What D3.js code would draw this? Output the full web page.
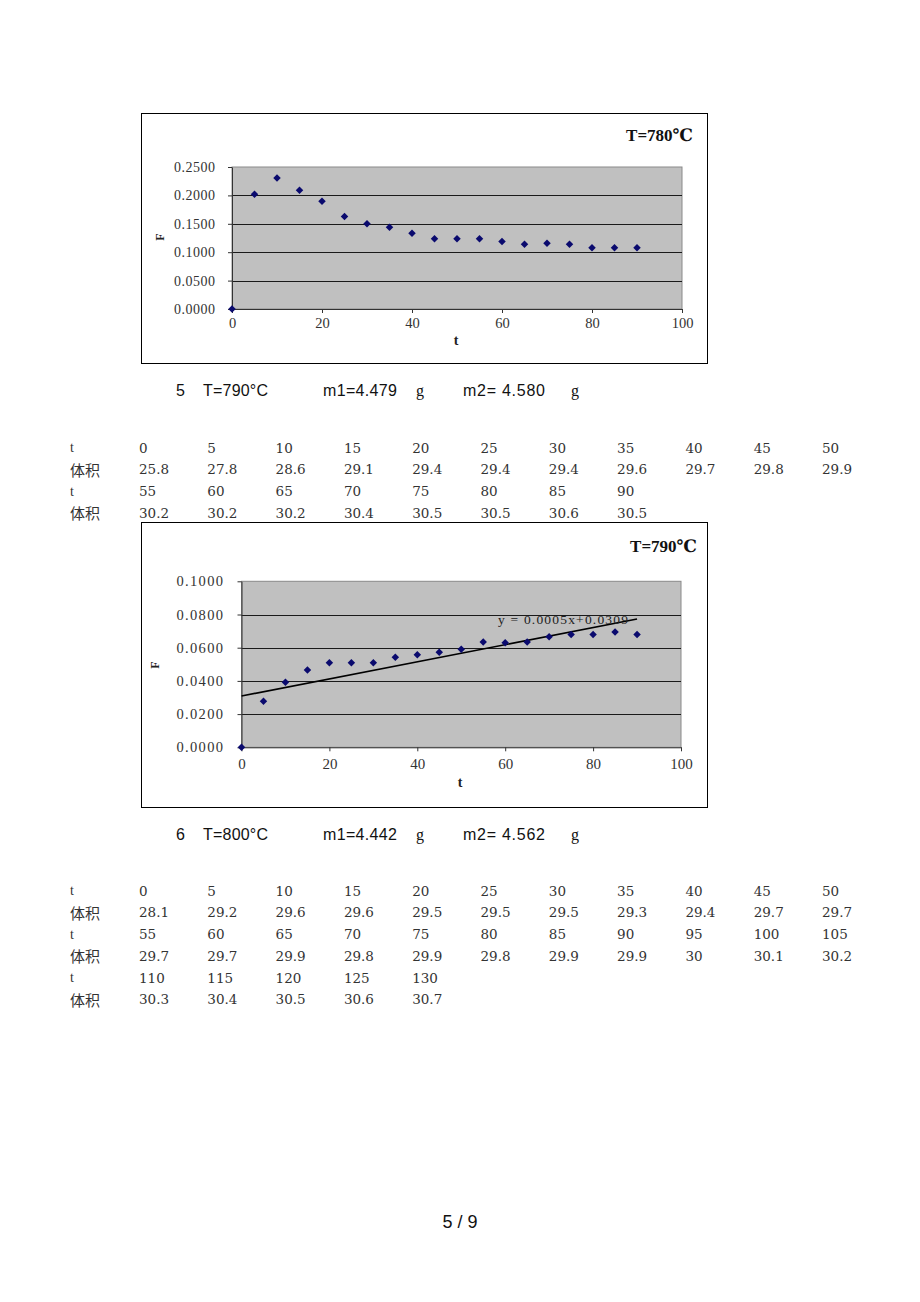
<!DOCTYPE html>
<html>
<head>
<meta charset="utf-8">
<script src="https://cdn.jsdelivr.net/npm/d3@7"></script>
<style>
  html, body { margin: 0; padding: 0; background: #fff; }
  svg { display: block; }
</style>
</head>
<body>
<svg id="page" width="920" height="1302"></svg>
<script>
// ---------- DATA ----------
// Chart 1 (T=780℃)
const chart1T = [0, 5, 10, 15, 20, 25, 30, 35, 40, 45, 50, 55, 60, 65, 70, 75, 80, 85, 90];
const chart1F = [0, 0.2019, 0.2306, 0.2090, 0.1896, 0.1630, 0.1500, 0.1438, 0.1332, 0.1238, 0.1238, 0.1238, 0.1190, 0.1139, 0.1156, 0.1139, 0.1080, 0.1080, 0.1080];
const chart1YTicks = [0, 0.05, 0.10, 0.15, 0.20, 0.25];
const chart1XTicks = [0, 20, 40, 60, 80, 100];
const chart1Title = "T=780℃";

// Chart 2 (T=790℃)
const chart2T = [0, 5, 10, 15, 20, 25, 30, 35, 40, 45, 50, 55, 60, 65, 70, 75, 80, 85, 90];
const chart2F = [0, 0.0277, 0.0392, 0.0466, 0.0510, 0.0510, 0.0510, 0.0542, 0.0558, 0.0572, 0.0590, 0.0634, 0.0630, 0.0634, 0.0666, 0.0680, 0.0680, 0.0695, 0.0680];
const chart2YTicks = [0, 0.02, 0.04, 0.06, 0.08, 0.10];
const chart2XTicks = [0, 20, 40, 60, 80, 100];
const chart2Title = "T=790℃";
const chart2TrendT = [0, 90];
const chart2TrendF = [0.0309, 0.0773];
const chart2Equation = "y = 0.0005x+0.0309";

// Section headers
const section5 = ["5", "T=790°C", "m1=4.479", "g", "m2= 4.580", "g"];
const section6 = ["6", "T=800°C", "m1=4.442", "g", "m2= 4.562", "g"];

// Tables
const table1T = [[0, 5, 10, 15, 20, 25, 30, 35, 40, 45, 50], [55, 60, 65, 70, 75, 80, 85, 90]];
const table1V = [["25.8", "27.8", "28.6", "29.1", "29.4", "29.4", "29.4", "29.6", "29.7", "29.8", "29.9"],
                 ["30.2", "30.2", "30.2", "30.4", "30.5", "30.5", "30.6", "30.5"]];
const table2T = [[0, 5, 10, 15, 20, 25, 30, 35, 40, 45, 50], [55, 60, 65, 70, 75, 80, 85, 90, 95, 100, 105], [110, 115, 120, 125, 130]];
const table2V = [["28.1", "29.2", "29.6", "29.6", "29.5", "29.5", "29.5", "29.3", "29.4", "29.7", "29.7"],
                 ["29.7", "29.7", "29.9", "29.8", "29.9", "29.8", "29.9", "29.9", "30", "30.1", "30.2"],
                 ["30.3", "30.4", "30.5", "30.6", "30.7"]];
const rowLabels = ["t", "体积"];
const pageLabel = "5 / 9";

// ---------- DRAW ----------
const svg = d3.select("#page");
svg.append("rect").attr("width", 920).attr("height", 1302).attr("fill", "#fff");

const serifFont = "'Liberation Serif', 'DejaVu Serif', serif";

function drawChart(cfg) {
  const g = svg.append("g");
  // frame
  g.append("rect")
    .attr("x", cfg.frame.x).attr("y", cfg.frame.y)
    .attr("width", cfg.frame.w).attr("height", cfg.frame.h)
    .attr("fill", "#fff").attr("stroke", "#000").attr("stroke-width", 1);

  const x = d3.scaleLinear().domain([0, 100]).range([cfg.plot.x0, cfg.plot.x1]);
  const y = d3.scaleLinear().domain([0, cfg.yMax]).range([cfg.plot.y0, cfg.plot.y1]);

  // plot area
  g.append("rect")
    .attr("x", x(0)).attr("y", y(cfg.yMax))
    .attr("width", x(100) - x(0)).attr("height", y(0) - y(cfg.yMax))
    .attr("fill", "#c0c0c0").attr("stroke", "#8a8a8a").attr("stroke-width", 1);

  // gridlines
  g.selectAll(".grid").data(cfg.yTicks.filter(v => v > 0 && v < cfg.yMax - 1e-9))
    .enter().append("line")
    .attr("x1", x(0)).attr("x2", x(100))
    .attr("y1", d => Math.round(y(d)) + 0.5).attr("y2", d => Math.round(y(d)) + 0.5)
    .attr("stroke", "#1a1a1a").attr("stroke-width", 1);

  // axes
  const xAxis = d3.axisBottom(x).tickValues(cfg.xTicks).tickSize(4).tickSizeOuter(0).tickFormat(d3.format("d"));
  const yAxis = d3.axisLeft(y).tickValues(cfg.yTicks).tickSize(4).tickSizeOuter(0).tickFormat(d3.format(".4f"));

  const gx = g.append("g").attr("transform", `translate(0,${y(0)})`).call(xAxis);
  gx.select(".domain").attr("stroke", "#333");
  gx.selectAll(".tick line").attr("stroke", "#333");
  gx.selectAll("text")
    .attr("font-family", serifFont).attr("font-size", cfg.xFont)
    .attr("fill", "#333").attr("dy", null).attr("y", cfg.xLabelDy);

  const gy = g.append("g").attr("transform", `translate(${x(0)},0)`).call(yAxis);
  gy.select(".domain").attr("stroke", "#333");
  gy.selectAll(".tick line").attr("stroke", "#333");
  gy.selectAll("text")
    .attr("font-family", serifFont).attr("font-size", cfg.yFont)
    .attr("fill", "#333").attr("x", -cfg.yLabelDx)
    .attr("textLength", cfg.yLabelLen).attr("lengthAdjust", "spacing");

  // trendline
  if (cfg.trendT) {
    const line = d3.line().x(d => x(d[0])).y(d => y(d[1]));
    g.append("path")
      .attr("d", line(cfg.trendT.map((t, i) => [t, cfg.trendF[i]])))
      .attr("stroke", "#000").attr("stroke-width", 1.6).attr("fill", "none");
    g.append("text")
      .attr("x", cfg.eqPos[0]).attr("y", cfg.eqPos[1])
      .attr("font-family", serifFont).attr("font-size", 13.5)
      .attr("textLength", 130).attr("lengthAdjust", "spacing")
      .attr("fill", "#222").text(cfg.equation);
  }

  // markers
  const sym = d3.symbol().type(d3.symbolSquare).size(28);
  g.selectAll(".pt").data(cfg.t.map((t, i) => [t, cfg.f[i]]))
    .enter().append("path")
    .attr("d", sym)
    .attr("transform", d => `translate(${x(d[0])},${y(d[1])}) rotate(45)`)
    .attr("fill", "#0a0a6e");

  // axis titles
  g.append("text")
    .attr("x", cfg.tPos[0]).attr("y", cfg.tPos[1])
    .attr("text-anchor", "middle")
    .attr("font-family", serifFont).attr("font-weight", "bold").attr("font-size", 14)
    .attr("fill", "#222").text("t");
  g.append("text")
    .attr("transform", `translate(${cfg.fPos[0]},${cfg.fPos[1]}) rotate(-90)`)
    .attr("text-anchor", "middle").attr("dominant-baseline", "central")
    .attr("font-family", serifFont).attr("font-weight", "bold").attr("font-size", 12)
    .attr("fill", "#222").text("F");

  // title
  g.append("text")
    .attr("x", cfg.titlePos[0]).attr("y", cfg.titlePos[1])
    .attr("text-anchor", "end")
    .attr("font-family", serifFont).attr("font-weight", "bold").attr("font-size", 17)
    .attr("fill", "#111").text(cfg.title);
}

drawChart({
  frame: { x: 141.5, y: 113.5, w: 566, h: 250 },
  plot: { x0: 232, x1: 682, y0: 309, y1: 167 },
  yMax: 0.25, yTicks: chart1YTicks, xTicks: chart1XTicks,
  t: chart1T, f: chart1F,
  xFont: 14.5, yFont: 14, xLabelDy: 19, yLabelDx: 17, yLabelLen: 41,
  tPos: [456, 345], fPos: [160, 237], titlePos: [693, 141], title: chart1Title
});

drawChart({
  frame: { x: 141.5, y: 522.5, w: 566, h: 285 },
  plot: { x0: 241.5, x1: 681, y0: 747.3, y1: 581.3 },
  yMax: 0.10, yTicks: chart2YTicks, xTicks: chart2XTicks,
  t: chart2T, f: chart2F,
  xFont: 15, yFont: 14.5, xLabelDy: 22, yLabelDx: 18.5, yLabelLen: 46.5,
  trendT: chart2TrendT, trendF: chart2TrendF, equation: chart2Equation, eqPos: [498, 624],
  tPos: [460, 787], fPos: [155, 665], titlePos: [697, 552], title: chart2Title
});

// section headers
function drawHeader(parts, baseline) {
  const sans = "'Liberation Sans', Arial, sans-serif";
  const specs = [
    { x: 176, font: sans, len: null },
    { x: 203, font: sans, len: 65 },
    { x: 323, font: sans, len: 74 },
    { x: 416, font: serifFont, len: null },
    { x: 463, font: sans, len: 82 },
    { x: 571, font: serifFont, len: null }
  ];
  parts.forEach((p, i) => {
    const t = svg.append("text")
      .attr("x", specs[i].x).attr("y", baseline)
      .attr("font-family", specs[i].font).attr("font-size", 16)
      .attr("fill", "#111").text(p);
    if (specs[i].len) t.attr("textLength", specs[i].len).attr("lengthAdjust", "spacing");
  });
}
drawHeader(section5, 396);
drawHeader(section6, 840);

// tables
function drawTable(tRows, vRows, firstCenter) {
  const pitch = 21.7;
  const colX = i => 139 + i * 68.3;
  let row = 0;
  tRows.forEach((tr, r) => {
    [tr.map(String), vRows[r]].forEach((cells, k) => {
      const yc = firstCenter + row * pitch;
      svg.append("text")
        .attr("x", 70).attr("y", yc).attr("dominant-baseline", "central")
        .attr("font-family", k === 0 ? serifFont : "'Noto Sans CJK SC', sans-serif")
        .attr("font-size", k === 0 ? 14 : 15).attr("fill", "#333")
        .text(rowLabels[k]);
      svg.selectAll(null).data(cells).enter().append("text")
        .attr("x", (d, i) => colX(i)).attr("y", yc + 5)
        .attr("font-family", "'DejaVu Serif', serif").attr("font-size", 13.5)
        .attr("fill", "#333").text(d => d);
      row++;
    });
  });
}
drawTable(table1T, table1V, 447.7);
drawTable(table2T, table2V, 890.7);

// page number
svg.append("text")
  .attr("x", 460).attr("y", 1228).attr("text-anchor", "middle")
  .attr("font-family", "'Liberation Sans', Arial, sans-serif").attr("font-size", 18)
  .attr("fill", "#111").text(pageLabel);
</script>
</body>
</html>
